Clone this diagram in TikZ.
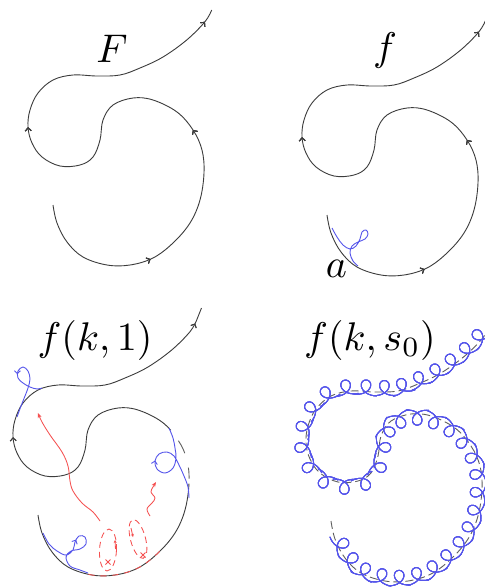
\documentclass[tikz,border=0pt]{standalone}
\usetikzlibrary{arrows.meta,decorations.markings}
\definecolor{curvecol}{RGB}{60,60,60}
\definecolor{bluecol}{RGB}{85,85,235}
\definecolor{redcol}{RGB}{245,80,80}
\definecolor{dashcol}{RGB}{95,95,95}
\def\curvepath{plot[smooth, tension=0.6] coordinates {(53,205) (57,223) (67,242) (83,257) (107,265) (130,265) (153,258) (173,243) (190,223) (200,200) (204,173) (202,150) (193,130) (177,112) (153,100) (133,98) (113,105) (103,120) (100,140) (93,157) (80,165) (60,166) (42,157) (32,143) (28,127) (30,110) (38,93) (53,80) (73,75) (97,76) (120,75) (140,68) (163,57) (186.7,40) (205,21.7) (211.7,10)}}
\tikzset{
  curveline/.style={draw=curvecol, line width=0.9pt},
  blueline/.style={draw=bluecol, line width=0.9pt},
  redline/.style={draw=redcol, line width=0.85pt},
  titlefont/.style={scale=4, inner sep=0pt, anchor=base},
  tipmark/.style={decoration={markings, mark=at position #1 with {\arrow{Straight Barb[length=3pt,width=6pt]}}}, postaction={decorate}},
  redtip/.style={-{Stealth[length=5pt,width=4pt]}},
  coilpiece/.style={decoration={markings, mark=between positions 26pt and -4pt step 19pt with {\draw[blueline, line cap=round] plot[domain=-3.3:3.3, samples=44, variable=\t] ({(19*\t/6.2832 - 9*sin(\t r))*1pt}, {(7.5*cos(\t r)+4)*1pt});}}, postaction={decorate}},
  coiltip/.style={decoration={markings, mark=at position #1 with {\draw[blueline, -{Straight Barb[length=2.5pt,width=5pt]}] (1.5pt,11.5pt) -- (-0.5pt,11.5pt);}}, postaction={decorate}}
}
\begin{document}
\begin{tikzpicture}[x=1pt,y=-1pt]
\fill[white] (0,0) rectangle (485,587);
\useasboundingbox (0,0) rectangle (485,587);

% ---------- panel 1: F ----------
\node[titlefont] (tF) at (112,62) {$F$};
\begin{scope}
  \draw[curveline, tipmark=0.173, tipmark=0.372, tipmark=0.686, tipmark=0.982] \curvepath;
\end{scope}

% ---------- panel 2: f ----------
\node[titlefont] (tf) at (385,60) {$f$};
\begin{scope}[shift={(274,10)}]
  \draw[curveline, tipmark=0.173, tipmark=0.372, tipmark=0.686, tipmark=0.982] \curvepath;
\end{scope}
\draw[blueline] plot[smooth, tension=0.6] coordinates {(332,228) (337,237) (343,245) (350,249) (356,246) (360,239) (362,232) (366,230) (368,234) (365,239) (358,242) (352,246) (350,253) (353,261) (358,266)};
\node[titlefont] (ta) at (336.5,277) {$a$};

% ---------- panel 3: f(k,1) ----------
\node[titlefont] (tk1) at (95,350) {$f(k,1)$};
\begin{scope}[shift={(-15,310)}]
  \draw[curveline, dash pattern=on 238pt off 58pt on 2000pt, tipmark=0.686, tipmark=0.995] \curvepath;
  \coordinate (tailA) at (211.7,10);
  \coordinate (tailB) at (216.5,-2);
  \draw[curveline] (tailA) -- (tailB);
  \draw[draw=dashcol, line width=0.9pt, dash pattern=on 0pt off 243pt on 11pt off 15pt on 14pt off 2000pt] \curvepath;
  \draw[redline, dash pattern=on 0pt off 84pt on 6pt off 6pt on 6pt off 6pt on 6pt off 6pt on 6pt off 6pt on 6pt off 6pt on 6pt off 6pt on 6pt off 2000pt] \curvepath;
\end{scope}
% blue loops
\draw[blueline, tipmark=0.675] plot[smooth, tension=0.6] coordinates {(17,417) (21,406) (25,396) (28,388) (30,379) (28,371) (23,367) (18,371) (18,378) (23,383) (30,387) (37,389) (42,388)};
\draw[blueline, tipmark=0.5] plot[smooth, tension=0.6] coordinates {(169,428) (173,438) (175,448) (176,458) (173,468) (165,473) (157,469) (155,461) (159,454) (167,452) (174,456) (179,465) (184,476) (188,487) (189,498)};
\draw[blueline, tipmark=0.42] plot[smooth, tension=0.6] coordinates {(43,533) (49,544) (57,551) (66,555) (73,550) (75,542) (79,536) (85,537) (86,544) (80,549) (71,551) (66,557) (70,566) (80,570) (88,573)};
% red parts
\draw[redline, dash pattern=on 6pt off 4pt, rotate around={-3:(108,550)}] (108,550) ellipse [x radius=8.5, y radius=21];
\draw[redline, dash pattern=on 6pt off 4pt, rotate around={15:(138,539)}] (138,539) ellipse [x radius=7.5, y radius=20];
\draw[redline, -{Stealth[length=3pt,width=3pt]}] (115.5,549) -- (115,540);
\draw[redline, -{Stealth[length=3pt,width=3pt]}] (131,528) -- (133,537);
\draw[redline] (105.5,559.5) -- (110.5,564.5) (105.5,564.5) -- (110.5,559.5);
\draw[redline] (140.5,552.5) -- (145.5,557.5) (140.5,557.5) -- (145.5,552.5);
\draw[redline, redtip] plot[smooth, tension=0.6] coordinates {(100,521) (93,512) (82,503) (73,491) (70,481) (68,466) (62,452) (50,435) (42,422) (38,413)};
\draw[redline, redtip] plot[smooth, tension=0.6] coordinates {(150,516) (147,509) (152,503) (155,498) (151,492) (153,487) (156,482)};

% ---------- panel 4: f(k,s_0) ----------
\node[titlefont] (tks) at (370,350) {$f(k,s_0)$};
\begin{scope}[shift={(278,316)}]
  \draw[draw=dashcol, line width=0.9pt, dash pattern=on 8pt off 4pt] \curvepath;
  \path[coilpiece, coiltip=178pt, coiltip=235pt, coiltip=311pt] \curvepath;
\end{scope}
\end{tikzpicture}
\end{document}
